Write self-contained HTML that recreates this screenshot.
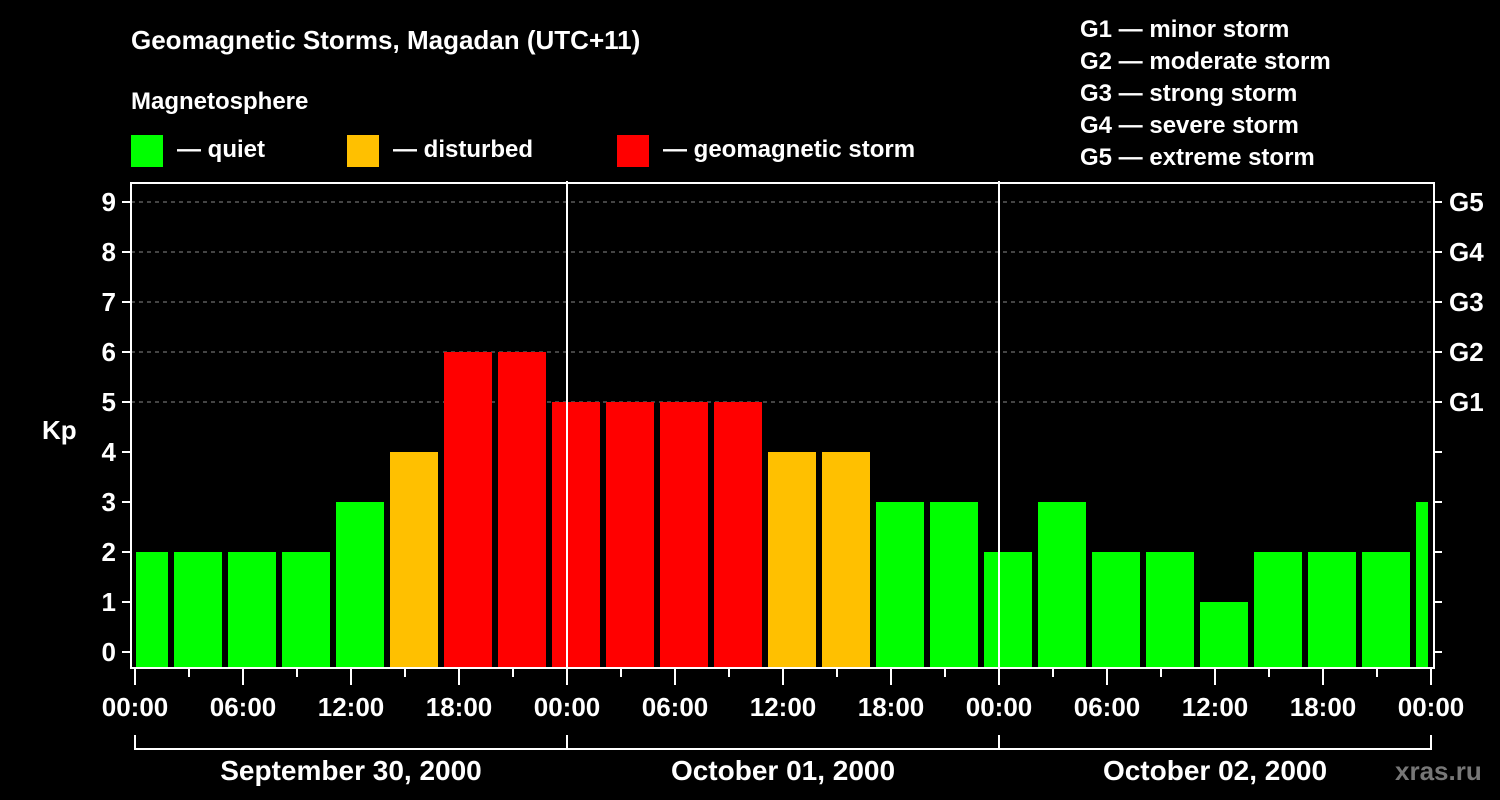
<!DOCTYPE html>
<html><head><meta charset="utf-8"><style>
html,body{margin:0;padding:0;background:#000;}
svg{display:block;font-family:"Liberation Sans",Arial,sans-serif;font-weight:bold;}
</style></head><body>
<svg id="chart" width="1500" height="800" viewBox="0 0 1500 800">
<rect width="1500" height="800" fill="#000"/>
<text x="131" y="49" fill="#fff" font-size="26">Geomagnetic Storms, Magadan (UTC+11)</text>
<text x="131" y="109" fill="#fff" font-size="24">Magnetosphere</text>
<g><rect x="131" y="135" width="32" height="32" fill="#00ff00"/><text x="177" y="157" fill="#fff" font-size="24">— quiet</text></g>
<g><rect x="347" y="135" width="32" height="32" fill="#ffc000"/><text x="393" y="157" fill="#fff" font-size="24">— disturbed</text></g>
<g><rect x="617" y="135" width="32" height="32" fill="#ff0000"/><text x="663" y="157" fill="#fff" font-size="24">— geomagnetic storm</text></g>
<g fill="#fff" font-size="24">
<text x="1080" y="37">G1 — minor storm</text>
<text x="1080" y="69">G2 — moderate storm</text>
<text x="1080" y="101">G3 — strong storm</text>
<text x="1080" y="133">G4 — severe storm</text>
<text x="1080" y="165">G5 — extreme storm</text>
</g>
<text x="42" y="439" fill="#fff" font-size="26">Kp</text>
<text x="1395" y="780" fill="#777" font-size="26">xras.ru</text>
<g id="plot"></g>
</svg>
<script>
const kpValues=[2,2,2,2,3,4,6,6,5,5,5,5,4,4,3,3,2,3,2,2,1,2,2,2,3];
const yTicks=[0,1,2,3,4,5,6,7,8,9];
const gLabels=["G1","G2","G3","G4","G5"];
const xTickLabels=["00:00","06:00","12:00","18:00","00:00","06:00","12:00","18:00","00:00","06:00","12:00","18:00","00:00"];
const dayLabels=["September 30, 2000","October 01, 2000","October 02, 2000"];
const firstBoundaryHour=2; // local hour of first 3h interval boundary
const totalHours=72;

const L=135,R=1431,T=183,B=668;
const xS=h=>L+(R-L)*h/totalHours;
const yS=v=>652-50*v;
const NS="http://www.w3.org/2000/svg";
const g=document.getElementById('plot');
function mk(t,a){const e=document.createElementNS(NS,t);for(const k in a)e.setAttribute(k,a[k]);g.appendChild(e);return e;}
function color(v){return v>=5?"#ff0000":(v>=4?"#ffc000":"#00ff00");}

// grid
yTicks.forEach(v=>{
  if(v>=5){const l=mk('line',{x1:131,x2:1434,y1:yS(v),y2:yS(v),stroke:'#888','stroke-dasharray':'4,4','stroke-width':1});
  
  }
});
// bars
kpValues.forEach((v,i)=>{
  let h0=i===0?0:firstBoundaryHour+(i-1)*3;
  let h1=Math.min(totalHours,firstBoundaryHour+i*3);
  let x0=xS(h0)+(i===0?1:3), x1=xS(h1)-3;
  if(h1>=totalHours)x1=xS(h1)-3;
  const r=mk('rect',{x:x0,y:yS(v),width:Math.max(1,x1-x0),height:B-yS(v),fill:color(v)});
  
  
});
// day separators
[24,48].forEach(h=>{const l=mk('line',{x1:xS(h),x2:xS(h),y1:T-2,y2:B,stroke:'#fff','stroke-width':2});
  
  });
// frame
const f=mk('rect',{x:131,y:T,width:1303,height:B-T,fill:'none',stroke:'#fff','stroke-width':2});


// y ticks & labels
yTicks.forEach(v=>{
  mk('line',{x1:122,x2:131,y1:yS(v),y2:yS(v),stroke:'#fff','stroke-width':2});
  mk('line',{x1:1434,x2:1442,y1:yS(v),y2:yS(v),stroke:'#fff','stroke-width':2});
  const t=mk('text',{x:116,y:yS(v)+9,fill:'#fff','font-size':26,'text-anchor':'end'});t.textContent=v;
  
  
});
gLabels.forEach((s,i)=>{
  const t=mk('text',{x:1449,y:yS(5+i)+9,fill:'#fff','font-size':26});t.textContent=s;
  
  
});
// x ticks
for(let h=0;h<=totalHours;h+=3){
  const major=h%6===0;
  mk('line',{x1:xS(h),x2:xS(h),y1:B,y2:major?685:677,stroke:'#fff','stroke-width':2});
}
xTickLabels.forEach((s,i)=>{
  const t=mk('text',{x:xS(i*6),y:716,fill:'#fff','font-size':26,'text-anchor':'middle'});t.textContent=s;
  
  
});
// day brackets
const br=mk('path',{d:`M${xS(0)},735V749H${xS(72)}V735M${xS(24)},735V749M${xS(48)},735V749`,fill:'none',stroke:'#fff','stroke-width':2});


dayLabels.forEach((s,i)=>{
  const t=mk('text',{x:xS(i*24+12),y:780,fill:'#fff','font-size':28,'text-anchor':'middle'});t.textContent=s;
  
  
});
</script>
</body></html>
